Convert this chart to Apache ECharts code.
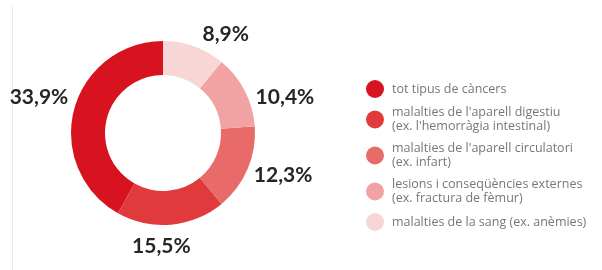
<!DOCTYPE html>
<html>
<head>
<meta charset="utf-8">
<script src="https://cdn.jsdelivr.net/npm/echarts@6/dist/echarts.min.js"></script>
<style>
  html, body { margin: 0; padding: 0; background: #fff; }
  #chart { width: 602px; height: 270px; }
</style>
</head>
<body>
<div id="chart"></div>
<script>
// categories (legend order) and values in %
var categories = [
    "tot tipus de càncers",
    "malalties de l'aparell digestiu\n(ex. l'hemorràgia intestinal)",
    "malalties de l'aparell circulatori\n(ex. infart)",
    "lesions i conseqüències externes\n(ex. fractura de fèmur)",
    "malalties de la sang (ex. anèmies)"
];
var values = [33.9, 15.5, 12.3, 10.4, 8.9];
var colors = ['#d7131f', '#e03a3d', '#e86a69', '#f0a3a2', '#f8d6d5'];
// small nudges so the % labels sit where the original designer put them
var labelNudge = [[11, -10], [-47, 12], [-10, 2], [-5, 11], [-2, -3]];

var chart = echarts.init(document.getElementById('chart'), null, { renderer: 'canvas' });

var pieData = categories.map(function (name, i) {
    return { name: name, value: values[i], itemStyle: { color: colors[i] } };
});

chart.setOption({
    animation: false,
    backgroundColor: '#fff',
    graphic: [{
        type: 'line',
        shape: { x1: 12.5, y1: 6, x2: 12.5, y2: 270 },
        style: { stroke: '#ececec', lineWidth: 1 }
    }],
    legend: {
        orient: 'vertical',
        left: 366,
        top: 80,
        padding: 0,
        itemWidth: 18,
        itemHeight: 18,
        itemGap: 7,
        icon: 'circle',
        data: categories,
        textStyle: {
            fontFamily: 'Open Sans',
            fontSize: 12.5,
            color: '#777',
            lineHeight: 14.5,
            padding: [0, 0, 0, 3]
        }
    },
    series: [{
        type: 'pie',
        center: [163, 133],
        radius: [58, 92],
        startAngle: 90,
        clockwise: false,
        data: pieData,
        label: {
            show: true,
            position: 'outside',
            overflow: 'none',
            formatter: function (p) {
                return p.value.toFixed(1).replace('.', ',') + '%';
            },
            fontFamily: 'Lato',
            fontWeight: 'bold',
            fontSize: 21,
            color: '#262626'
        },
        labelLine: { show: false, length: 10, length2: 2 },
        labelLayout: function (p) {
            var n = labelNudge[p.dataIndex];
            return { dx: n[0], dy: n[1] };
        }
    }]
});
</script>
</body>
</html>
